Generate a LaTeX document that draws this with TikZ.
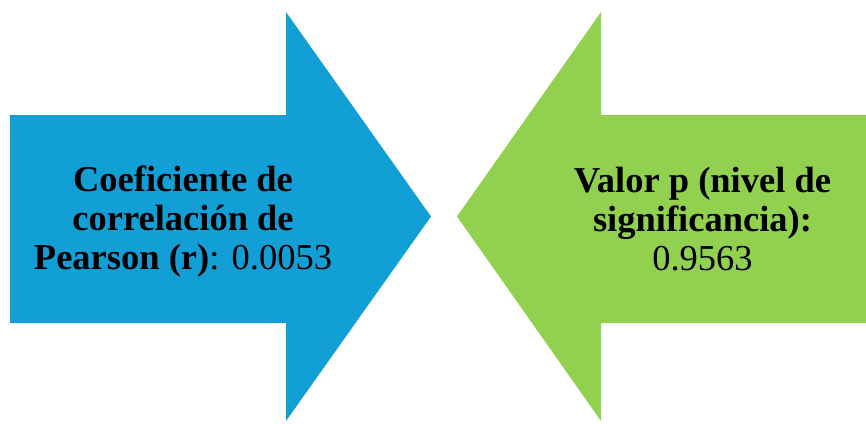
\documentclass[tikz,border=0pt]{standalone}
\usepackage{fontspec}
\setmainfont{Liberation Serif}
\definecolor{arrowblue}{RGB}{18,159,214}
\definecolor{arrowgreen}{RGB}{146,208,80}
\begin{document}
\begin{tikzpicture}[x=1pt,y=-1pt,
  arrowtext/.style={align=center,inner sep=0pt,font=\fontsize{36.5}{39}\selectfont}]
\useasboundingbox (0,0) rectangle (866,423);
\fill[arrowblue] (10,115) -- (286,115) -- (286,12) -- (431,216.5) -- (286,421) -- (286,323) -- (10,323) -- cycle;
\fill[arrowgreen] (866,115) -- (601,115) -- (601,12) -- (457,216.5) -- (601,421) -- (601,323) -- (866,323) -- cycle;
\node[arrowtext] (pearson) at (183,222) {\textbf{Coeficiente de}\\\textbf{correlación de}\\\textbf{Pearson (r)}: 0.0053};
\node[arrowtext] (pvalue) at (702.5,219) {\textbf{Valor p (nivel de}\\\textbf{significancia):}\\0.9563};
\end{tikzpicture}
\end{document}
